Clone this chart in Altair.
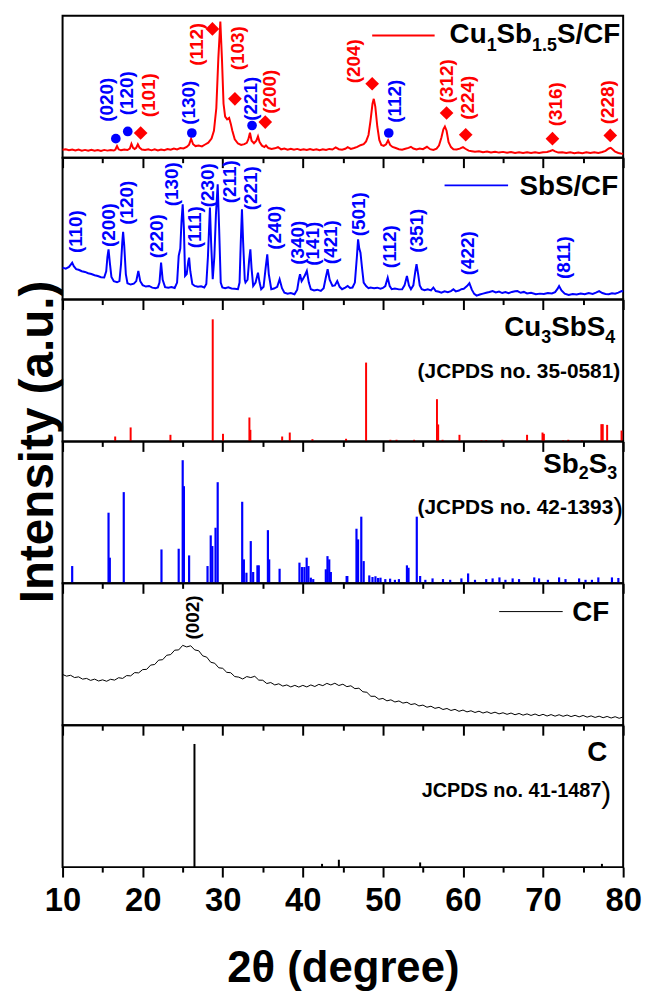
import altair as alt
import pandas as pd

FONT = "Liberation Sans"
RED = "#FF0000"
BLUE = "#0000FF"
W, H = 565, 143
XMIN, XMAX = 10, 80
DPP = (XMAX - XMIN) / W  # degrees per pixel, used only to lay out sub-scripted text runs

TICKS = [10, 15, 20, 25, 30, 35, 40, 45, 50, 55, 60, 65, 70, 75, 80]

# ---------------- Panel 1: Cu1Sb1.5S/CF (red pattern) ----------------
cu_x = [10.0, 10.4, 10.8, 11.2, 11.6, 12.0, 12.4, 12.8, 13.2, 13.6, 14.0, 14.4, 14.8, 15.2, 15.6, 16.0, 16.4, 16.6,
        16.8, 17.0, 17.3, 17.7, 18.1, 18.4, 18.6, 18.8, 19.0, 19.2, 19.4, 19.6, 19.9, 20.3, 20.7, 21.1, 21.5, 21.9,
        22.3, 22.7, 23.1, 23.5, 23.9, 24.3, 24.7, 25.1, 25.5, 25.8, 26.05, 26.3, 26.6, 27.0, 27.4, 27.8, 28.2, 28.6,
        28.9, 29.2, 29.45, 29.7, 29.9, 30.1, 30.3, 30.55, 30.8, 31.0, 31.2, 31.5, 31.9, 32.3, 32.7, 33.0, 33.2, 33.4,
        33.6, 33.9, 34.2, 34.4, 34.6, 34.9, 35.2, 35.4, 35.7, 36.1, 36.5, 36.9, 37.3, 37.7, 38.1, 38.5, 38.9, 39.3,
        39.7, 40.1, 40.5, 40.9, 41.3, 41.7, 42.1, 42.5, 42.9, 43.3, 43.7, 44.1, 44.5, 44.9, 45.3, 45.6, 46.0, 46.4,
        46.8, 47.2, 47.6, 47.9, 48.2, 48.45, 48.7, 48.86, 49.05, 49.3, 49.55, 49.8, 50.1, 50.4, 50.65, 50.9, 51.2,
        51.6, 52.0, 52.4, 52.8, 53.2, 53.5, 53.8, 54.2, 54.6, 55.0, 55.5, 55.9, 56.3, 56.7, 57.0, 57.3, 57.55, 57.74,
        57.95, 58.2, 58.5, 58.8, 59.2, 59.6, 60.0, 60.3, 60.7, 61.1, 61.5, 62.0, 62.5, 63.0, 63.5, 64.0, 64.5, 65.0,
        65.5, 66.0, 66.5, 67.0, 67.5, 68.0, 68.5, 69.0, 69.5, 70.0, 70.5, 70.9, 71.2, 71.5, 71.9, 72.4, 72.9, 73.4,
        73.9, 74.4, 74.9, 75.4, 75.9, 76.4, 76.9, 77.4, 77.8, 78.2, 78.45, 78.7, 79.0, 79.4, 79.7, 80.0]
cu_y = [5.6, 6.0, 5.3, 5.8, 5.1, 5.7, 5.0, 5.5, 4.9, 5.6, 5.0, 5.4, 4.8, 5.5, 5.0, 5.4, 5.1, 5.8,
        8.2, 5.9, 5.2, 5.8, 5.4, 6.5, 9.8, 7.0, 6.2, 7.0, 9.4, 7.2, 5.8, 5.5, 6.0, 5.2, 5.9, 5.1,
        5.8, 5.3, 6.1, 5.6, 6.5, 5.9, 6.8, 6.5, 7.6, 9.2, 13.4, 9.5, 8.2, 8.6, 8.0, 9.3, 10.6, 13.5,
        19.0, 35.0, 70.0, 96.0, 70.0, 38.0, 29.0, 27.0, 28.0, 24.0, 19.0, 13.0, 10.0, 9.0, 9.6, 10.5, 13.0, 17.6,
        12.0, 10.2, 12.0, 15.0, 11.0, 8.5, 7.5, 8.6, 6.8, 6.2, 6.6, 7.4, 5.9, 6.4, 5.7, 6.3, 5.6, 6.2,
        5.5, 6.0, 5.4, 6.1, 5.5, 6.0, 5.3, 5.9, 5.4, 6.2, 5.8, 7.2, 6.0, 5.6, 6.3, 7.5, 6.2, 6.8,
        7.6, 8.8, 9.6, 11.5, 16.0, 26.0, 38.0, 41.5, 36.0, 22.0, 12.5, 9.0, 8.3, 9.5, 12.2, 9.0, 7.6,
        6.8, 6.0, 5.6, 6.3, 6.9, 7.7, 6.5, 5.8, 6.4, 6.0, 7.7, 6.0, 5.5, 6.4, 8.5, 14.0, 20.0, 22.0,
        19.0, 11.0, 7.5, 6.0, 5.8, 6.4, 7.5, 6.3, 5.0, 4.6, 4.2, 4.6, 3.9, 4.3, 3.7, 4.2, 3.6, 4.1,
        3.5, 4.0, 3.4, 3.9, 3.4, 3.8, 3.3, 3.9, 3.4, 3.8, 4.0, 4.7, 5.3, 4.5, 3.6, 3.9, 3.3, 3.8,
        3.2, 3.7, 3.2, 3.8, 3.3, 3.9, 3.4, 4.0, 4.8, 6.5, 7.0, 5.8, 4.2, 3.3, 3.0, 2.8]

# peak labels (Miller indices) of panel 1
cu_lab_text = ["(020)", "(120)", "(101)", "(130)", "(112)", "(103)", "(221)", "(200)",
               "(204)", "(112)", "(312)", "(224)", "(316)", "(228)"]
cu_lab_x = [15.61, 18.05, 20.78, 25.74, 26.73, 31.93, 33.54, 35.86, 46.39, 51.5, 57.95, 60.64, 71.58, 78.15]
cu_lab_y = [40.8, 45.4, 44.0, 38.7, 79.9, 77.1, 41.5, 46.5, 68.0, 39.8, 53.9, 42.3, 37.7, 39.1]
cu_lab_col = [BLUE, BLUE, RED, BLUE, RED, RED, BLUE, RED, RED, BLUE, RED, RED, RED, RED]

# markers: blue circles (Sb2S3) and red diamonds (Cu3SbS4)
circ_x = [16.65, 18.14, 26.14, 33.66, 50.73]
circ_y = [13.4, 18.5, 17.4, 22.7, 17.4]
diam_x = [19.75, 28.71, 31.52, 35.31, 48.66, 57.95, 60.34, 71.17, 78.39]
diam_y = [17.4, 90.8, 41.5, 25.1, 52.1, 31.5, 16.2, 13.4, 15.7]

# ---------------- Panel 2: SbS/CF (blue pattern) ----------------
sb_x = [10.0, 10.4, 10.8, 11.0, 11.2, 11.4, 11.7, 12.0, 12.4, 12.8, 13.2, 13.6, 14.0, 14.4, 14.8, 15.2, 15.45,
        15.6, 15.74, 15.9, 16.1, 16.4, 16.8, 17.1, 17.3, 17.45, 17.56, 17.7, 17.9, 18.1, 18.5, 18.9, 19.2, 19.46,
        19.7, 20.0, 20.4, 20.8, 21.2, 21.6, 21.9, 22.1, 22.3, 22.5, 22.8, 23.2, 23.6, 24.0, 24.3, 24.5, 24.7, 24.85,
        25.0, 25.15, 25.3, 25.5, 25.7, 25.8, 25.95, 26.2, 26.5, 26.9, 27.3, 27.7, 27.95, 28.15, 28.4, 28.55, 28.75,
        28.95, 29.15, 29.37, 29.55, 29.75, 29.95, 30.3, 30.7, 31.1, 31.5, 31.9, 32.1, 32.25, 32.4, 32.55, 32.75,
        32.84, 33.1, 33.3, 33.45, 33.6, 33.8, 34.1, 34.4, 34.6, 34.8, 35.1, 35.35, 35.56, 35.75, 36.06, 36.4, 36.8,
        37.1, 37.4, 37.7, 38.1, 38.5, 38.96, 39.3, 39.5, 39.65, 39.85, 40.0, 40.25, 40.5, 40.75, 41.0, 41.4, 41.8,
        42.25, 42.6, 42.85, 43.1, 43.35, 43.7, 44.0, 44.3, 44.6, 44.9, 45.3, 45.6, 45.9, 46.2, 46.5, 46.75, 46.9,
        47.05, 47.2, 47.4, 47.6, 47.9, 48.2, 48.45, 48.9, 49.3, 49.7, 50.0, 50.3, 50.6, 50.85, 51.1, 51.5, 52.0,
        52.4, 52.7, 53.0, 53.25, 53.5, 53.8, 54.05, 54.2, 54.4, 54.6, 54.85, 55.2, 55.6, 56.0, 56.3, 56.6, 57.0,
        57.3, 57.7, 58.1, 58.5, 58.8, 59.1, 59.5, 59.8, 60.1, 60.5, 60.8, 61.1, 61.4, 61.7, 62.1, 62.5, 62.9, 63.3,
        63.7, 64.1, 64.5, 64.9, 65.3, 65.7, 66.1, 66.5, 66.8, 67.2, 67.6, 68.0, 68.5, 69.1, 69.6, 70.1, 70.6, 71.1,
        71.5, 71.8, 72.0, 72.3, 72.7, 73.2, 73.7, 74.2, 74.7, 75.2, 75.7, 76.2, 76.6, 77.0, 77.4, 77.8, 78.2, 78.6,
        79.0, 79.4, 79.8, 80.0]
sb_y = [22.5, 21.8, 23.0, 24.5, 26.0, 23.5, 21.5, 21.0, 20.0, 19.5, 18.6, 18.0, 17.2, 16.6, 15.8, 15.6, 20.0,
        30.0, 35.4, 26.0, 16.0, 13.0, 12.2, 13.0, 25.0, 40.0, 47.7, 38.0, 18.0, 11.5, 10.6, 11.2, 13.0, 20.2,
        13.0, 10.2, 9.2, 9.6, 8.4, 8.0, 8.6, 12.0, 26.0, 14.0, 8.8, 8.3, 8.9, 8.2, 12.0, 30.8, 36.0, 55.0,
        67.1, 50.0, 16.7, 18.0, 27.0, 29.6, 20.0, 11.0, 9.6, 9.0, 9.4, 8.5, 11.0, 30.0, 64.8, 40.0, 14.3,
        30.0, 60.0, 81.2, 50.0, 12.0, 8.5, 8.0, 8.6, 7.8, 7.6, 7.3, 12.0, 40.0, 63.6, 40.0, 14.0,
        12.0, 14.0, 28.0, 35.4, 22.0, 9.6, 12.0, 19.0, 12.0, 7.3, 9.0, 22.0, 31.9, 18.0, 7.3, 7.8, 9.0,
        14.3, 8.0, 4.9, 4.2, 4.6, 3.8, 7.0, 14.0, 17.8, 13.0, 14.3, 17.0, 20.2, 12.0, 7.3, 6.5, 7.0,
        6.1, 8.0, 15.0, 21.4, 14.0, 9.6, 10.0, 13.1, 9.0, 7.3, 8.5, 9.6, 8.2, 8.5, 12.0, 30.0, 42.5,
        36.0, 33.0, 22.0, 12.0, 9.5, 8.0, 8.5, 8.0, 8.4, 7.7, 8.2, 9.5, 15.5, 9.5, 7.3, 7.8, 7.2,
        7.3, 10.0, 16.7, 10.0, 7.3, 10.0, 20.0, 24.9, 18.0, 10.0, 7.3, 6.6, 7.2, 6.5, 8.5, 6.0, 5.5,
        4.9, 5.8, 5.2, 6.0, 7.3, 5.8, 6.4, 7.3, 7.6, 9.5, 11.5, 7.0, 4.0, 2.8, 3.6, 4.2, 4.8, 5.3,
        6.0, 5.0, 5.6, 4.6, 5.3, 4.5, 5.4, 5.9, 6.0, 4.8, 5.4, 4.3, 4.8, 3.8, 4.2, 4.0, 4.6, 4.3,
        5.3, 7.5, 9.6, 6.5, 4.2, 3.3, 4.0, 3.6, 4.3, 3.8, 4.6, 4.0, 4.9, 6.0, 4.6, 4.0, 3.8, 4.5,
        4.1, 4.9, 6.0, 5.6]

sb_lab_text = ["(110)", "(200)", "(120)", "(220)", "(130)", "(111)", "(230)", "(211)", "(221)", "(240)",
               "(340)", "(141)", "(421)", "(501)", "(112)", "(351)", "(422)", "(811)"]
sb_lab_x = [11.7, 15.82, 18.09, 21.81, 23.67, 26.57, 28.13, 30.9, 33.5, 36.48,
            39.36, 41.22, 43.49, 47.01, 50.93, 54.23, 60.64, 72.61]
sb_lab_y = [47.9, 52.5, 68.3, 44.7, 81.3, 51.0, 80.6, 83.1, 78.5, 50.7,
            40.1, 39.4, 40.5, 60.2, 37.3, 48.6, 32.7, 29.6]

# ---------------- Panel 3: Cu3SbS4 reference (JCPDS 35-0581) ----------------
cus_pos = [16.57, 18.5, 23.47, 28.75, 30.03, 33.33, 33.45, 37.42, 38.37, 41.2, 45.4, 47.9, 50.93, 51.7, 53.9,
           56.75, 56.9, 57.45, 59.56, 62.3, 62.9, 64.9, 68.0, 69.93, 70.1, 72.5, 73.15, 74.85, 77.28, 77.45, 78.0,
           79.8]
cus_int = [3.5, 9.9, 4.7, 86.1, 5.4, 16.9, 8.2, 3.5, 6.3, 1.6, 1.9, 55.6, 1.2, 1.2, 1.2,
           29.8, 12.0, 1.2, 4.7, 0.8, 0.8, 1.2, 4.7, 6.3, 5.4, 0.8, 1.2, 0.8, 12.2, 12.2, 11.7,
           7.7]

# ---------------- Panel 4: Sb2S3 reference (JCPDS 42-1393) ----------------
sbs_pos = [11.2, 15.74, 15.9, 17.64, 22.35, 24.5, 25.0, 25.15, 25.8, 28.1, 28.5, 28.7, 29.1, 29.37, 32.43, 32.64,
           32.96, 33.5, 33.8, 34.33, 34.5, 35.64, 35.8, 37.1, 39.58, 39.9, 40.2, 40.48, 40.7, 41.0, 41.3, 42.87,
           43.08, 43.3, 43.5, 45.47, 45.56, 46.7, 46.9, 47.3, 47.6, 48.3, 48.7, 49.07, 49.4, 49.7, 50.3, 50.9,
           51.5, 52.0, 53.0, 53.2, 54.23, 54.65, 55.3, 56.2, 57.5, 58.4, 59.8, 60.64, 61.5, 62.9, 63.7, 64.55,
           65.3, 66.2, 67.0, 68.9, 69.5, 70.6, 72.0, 72.8, 74.5, 75.3, 76.1, 76.9, 78.6, 79.4]
sbs_int = [12.2, 49.8, 18.1, 64.3, 23.9, 24.4, 86.8, 68.5, 19.7, 12.2, 33.8, 26.3, 39.2, 71.3, 57.5, 16.9,
           7.5, 29.8, 8.0, 12.7, 12.7, 37.5, 16.9, 10.3, 14.6, 11.5, 11.5, 18.1, 12.2, 4.0, 3.0, 9.9,
           19.2, 16.9, 8.0, 5.2, 5.2, 38.5, 31.0, 47.0, 15.7, 5.6, 4.5, 5.0, 3.8, 4.0, 3.0, 3.3,
           2.5, 3.0, 12.7, 11.0, 47.0, 5.2, 2.5, 3.5, 3.0, 2.5, 3.5, 7.0, 2.5, 3.0, 3.5, 4.2,
           2.5, 3.5, 3.0, 4.2, 3.5, 2.5, 4.2, 3.0, 3.5, 2.5, 2.5, 4.2, 4.2, 3.8]

# ---------------- Panel 5: CF (black, sampled every 0.5 degree from 10 to 80) ----------------
cf_y = [35.8, 34.6, 35.2, 33.6, 34.1, 32.5, 33.0, 31.6, 32.5, 31.2, 32.0, 31.0, 32.4, 31.8, 33.5, 33.0,
        35.0, 34.8, 37.1, 36.9, 39.2, 39.4, 42.4, 42.8, 45.9, 46.2, 49.3, 49.8, 52.9, 53.1, 56.3, 55.2,
        56.0, 53.1, 52.5, 48.9, 48.0, 44.4, 43.7, 40.5, 40.1, 37.3, 37.0, 34.3, 33.9, 32.6, 34.3, 33.6,
        34.5, 31.8, 31.7, 29.4, 30.1, 28.4, 29.2, 27.6, 28.4, 27.0, 28.1, 26.9, 28.1, 27.0, 28.4, 27.3,
        28.8, 27.9, 29.5, 28.4, 29.6, 28.0, 28.9, 27.2, 27.8, 25.8, 26.1, 23.6, 23.2, 20.4, 20.4, 18.3,
        18.9, 17.2, 17.9, 16.4, 17.1, 15.6, 16.2, 14.6, 15.2, 13.6, 14.2, 12.7, 13.4, 11.9, 12.6, 11.1,
        11.8, 10.4, 11.2, 9.8, 10.7, 9.4, 10.2, 9.0, 9.9, 8.6, 9.5, 8.3, 9.2, 8.0, 8.8, 7.7,
        8.6, 7.4, 8.3, 7.1, 8.0, 6.9, 7.9, 6.7, 7.7, 6.5, 7.5, 6.4, 7.4, 6.3, 7.2, 6.1,
        7.0, 5.9, 6.9, 5.7, 6.6, 5.5, 6.4, 5.3, 6.2, 5.1, 6.0, 4.9, 5.8]
cf_x = [10 + 0.5 * i for i in range(len(cf_y))]

# ---------------- Panel 6: C reference (JCPDS 41-1487) ----------------
c_pos = [26.47, 42.4, 44.5, 54.65, 77.35]
c_int = [86.8, 2.3, 5.2, 3.3, 2.3]

# ---------------- helpers ----------------
AW = {'C': .722, 'u': .611, 'S': .667, 'b': .611, '/': .278, 'F': .611, '1': .556, '.': .278,
      '5': .556, '3': .556, '4': .556, '2': .556}


def composite(frags, right_deg, y_main, y_sub, size=28, sub_size=18):
    widths = [sum(AW[c] for c in t) * (sub_size if s else size) for t, s in frags]
    x = right_deg - sum(widths) * DPP
    rows = []
    for (t, s), w in zip(frags, widths):
        rows.append(dict(x=x, y=y_sub if s else y_main, text=t, size=sub_size if s else size))
        x += w * DPP
    return pd.DataFrame(rows)


def x_axis(last):
    kw = dict(values=TICKS, title="2θ (degree)" if last else None, labels=last,
              labelExpr="datum.value % 10 === 0 ? datum.label : ''",
              labelFont=FONT, labelFontSize=33, labelFontWeight='bold', labelColor='black',
              labelFlush=False, labelOverlap=False, labelPadding=8, labelBound=False,
              ticks=True, tickColor='black', tickWidth=2,
              tickSize={"condition": {"test": "datum.value % 10 === 0", "value": 10}, "value": 5},
              domain=False, grid=False,
              titleFont=FONT, titleFontSize=44, titleFontWeight='bold', titleColor='black',
              titlePadding=29)
    return alt.Axis(**kw)


XS = alt.Scale(domain=[XMIN, XMAX], nice=False, zero=False)
YS = alt.Scale(domain=[0, 100], nice=False, zero=False)


def panel(layers_fn, last=False, ytitle=False):
    xa = x_axis(last)
    if ytitle:
        ya = alt.Axis(title="Intensity (a.u.)", labels=False, ticks=False, domain=False, grid=False,
                      titleFont=FONT, titleFontSize=48, titleFontWeight='bold', titleColor='black',
                      titleX=-10, titleY=H, titleAngle=270, titleAlign='center',
                      titleBaseline='alphabetic')
    else:
        ya = None
    X = lambda f: alt.X(f, type='quantitative', scale=XS, axis=xa)
    Y = lambda f: alt.Y(f, type='quantitative', scale=YS, axis=ya)
    return alt.layer(*layers_fn(X, Y)).properties(width=W, height=H)


def text_layer(df, X, Y, align='left', weight='bold'):
    return alt.Chart(df).mark_text(align=align, baseline='alphabetic', font=FONT, fontWeight=weight,
                                   color='black').encode(
        x=X('x'), y=Y('y'), text='text:N', size=alt.Size('size:Q', scale=None))


def legend_line(x1, x2, y, color, width, X, Y):
    df = pd.DataFrame({'x': [x1], 'x2': [x2], 'y': [y]})
    return alt.Chart(df).mark_rule(color=color, strokeWidth=width).encode(x=X('x'), x2='x2', y=Y('y'))


def rot_labels(df, X, Y):
    return alt.Chart(df).mark_text(angle=270, align='center', baseline='middle', font=FONT,
                                   fontWeight='bold', fontSize=19).encode(
        x=X('x'), y=Y('y'), text='text:N', color=alt.Color('col:N', scale=None))


def sticks(pos, inten, color, width, X, Y):
    df = pd.DataFrame({'x': pos, 'y': inten})
    return alt.Chart(df).mark_rule(color=color, strokeWidth=width).encode(x=X('x'), y=Y('y'), y2=alt.datum(0))


# ---------------- panels ----------------
def p1(X, Y):
    line = alt.Chart(pd.DataFrame({'x': cu_x, 'y': cu_y})).mark_line(color=RED, strokeWidth=2).encode(
        x=X('x'), y=Y('y'))
    labs = rot_labels(pd.DataFrame({'x': cu_lab_x, 'y': cu_lab_y, 'text': cu_lab_text, 'col': cu_lab_col}), X, Y)
    circ = alt.Chart(pd.DataFrame({'x': circ_x, 'y': circ_y})).mark_point(
        shape='circle', filled=True, size=95, color=BLUE, opacity=1).encode(x=X('x'), y=Y('y'))
    diam = alt.Chart(pd.DataFrame({'x': diam_x, 'y': diam_y})).mark_point(
        shape='diamond', filled=True, size=190, color=RED, opacity=1).encode(x=X('x'), y=Y('y'))
    leg = legend_line(48.66, 56.46, 86.1, RED, 2, X, Y)
    txt = text_layer(composite([("Cu", 0), ("1", 1), ("Sb", 0), ("1.5", 1), ("S/CF", 0)],
                               79.63, 80.8, 75.4), X, Y)
    return [line, labs, circ, diam, leg, txt]


def p2(X, Y):
    line = alt.Chart(pd.DataFrame({'x': sb_x, 'y': sb_y})).mark_line(color=BLUE, strokeWidth=2).encode(
        x=X('x'), y=Y('y'))
    labs = rot_labels(pd.DataFrame({'x': sb_lab_x, 'y': sb_lab_y, 'text': sb_lab_text,
                                    'col': [BLUE] * len(sb_lab_text)}), X, Y)
    leg = legend_line(57.7, 65.63, 80.5, BLUE, 2, X, Y)
    txt = text_layer(composite([("SbS/CF", 0)], 79.38, 73.9, 73.9), X, Y)
    return [line, labs, leg, txt]


def p3(X, Y):
    st = sticks(cus_pos, cus_int, RED, 2, X, Y)
    txt = text_layer(composite([("Cu", 0), ("3", 1), ("SbS", 0), ("4", 1)], 79.01, 74.4, 69.2), X, Y)
    jc = text_layer(pd.DataFrame({'x': [79.63], 'y': [44.6], 'text': ["(JCPDS no. 35-0581)"], 'size': [21]}),
                    X, Y, align='right')
    return [st, txt, jc]


def p4(X, Y):
    st = sticks(sbs_pos, sbs_int, BLUE, 2.2, X, Y)
    txt = text_layer(composite([("Sb", 0), ("2", 1), ("S", 0), ("3", 1)], 79.26, 78.0, 73.2), X, Y)
    jc = text_layer(pd.DataFrame({'x': [78.76], 'y': [48.6], 'text': ["(JCPDS no. 42-1393"], 'size': [21]}),
                    X, Y, align='right')
    par = text_layer(pd.DataFrame({'x': [78.76], 'y': [45.5], 'text': [")"], 'size': [30]}),
                     X, Y, align='left', weight='normal')
    return [st, txt, jc, par]


def p5(X, Y):
    line = alt.Chart(pd.DataFrame({'x': cf_x, 'y': cf_y})).mark_line(color='black', strokeWidth=1).encode(
        x=X('x'), y=Y('y'))
    lab = rot_labels(pd.DataFrame({'x': [26.32], 'y': [75.9], 'text': ["(002)"], 'col': ['black']}), X, Y)
    leg = legend_line(64.52, 72.45, 80.1, 'black', 1, X, Y)
    txt = text_layer(composite([("CF", 0)], 78.27, 73.2, 73.2), X, Y)
    return [line, lab, leg, txt]


def p6(X, Y):
    st = sticks(c_pos, c_int, 'black', 2, X, Y)
    txt = text_layer(composite([("C", 0)], 78.02, 74.6, 74.6), X, Y)
    jc = text_layer(pd.DataFrame({'x': [77.28], 'y': [49.3], 'text': ["JCPDS no. 41-1487"], 'size': [20]}),
                    X, Y, align='right')
    par = text_layer(pd.DataFrame({'x': [77.28], 'y': [45.5], 'text': [")"], 'size': [30]}),
                     X, Y, align='left', weight='normal')
    return [st, txt, jc, par]


chart = alt.vconcat(
    panel(p1), panel(p2), panel(p3, ytitle=True), panel(p4), panel(p5), panel(p6, last=True),
    spacing=0, bounds='flush'
).properties(
    padding={"top": 3, "left": 5, "right": 0, "bottom": 0},
    background='white'
).configure_view(stroke='black', strokeWidth=2)

chart.save("out.html", embed_options={"renderer": "svg", "actions": False})
